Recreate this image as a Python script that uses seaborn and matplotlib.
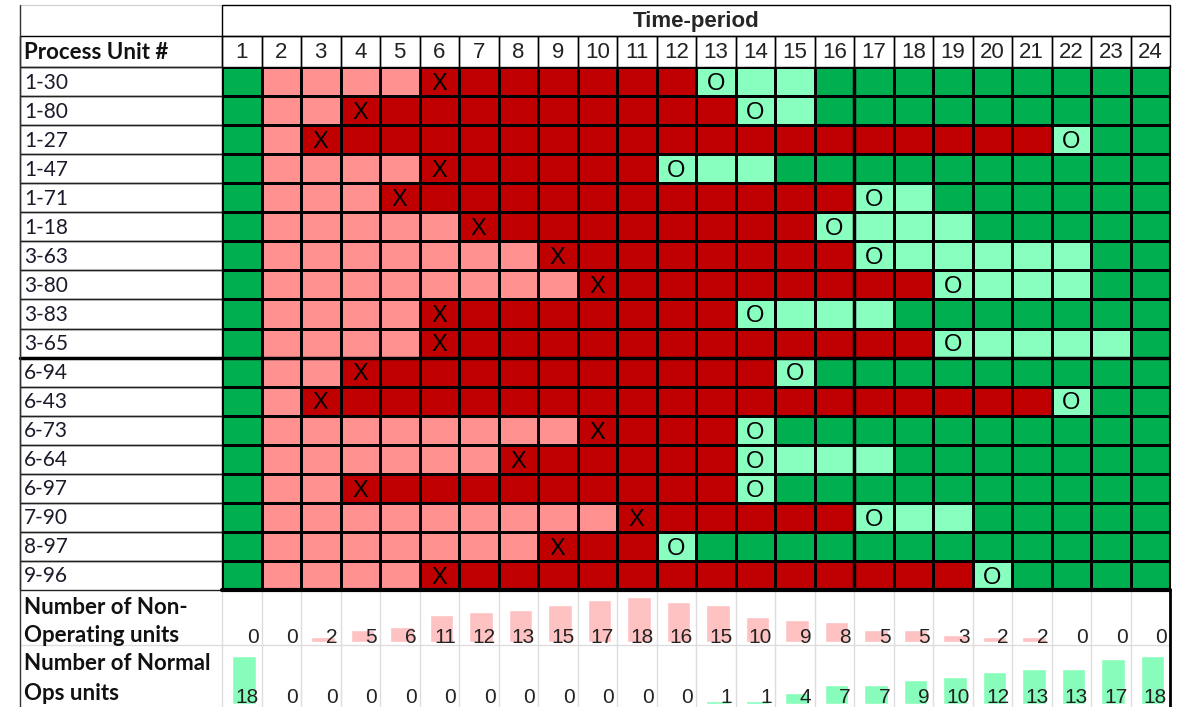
import matplotlib
matplotlib.use("Agg")
import matplotlib.pyplot as plt
from matplotlib.colors import ListedColormap
from matplotlib.patches import Rectangle
import seaborn as sns
import numpy as np


# Data

units = ["1-30", "1-80", "1-27", "1-47", "1-71", "1-18", "3-63", "3-80", "3-83",
         "3-65", "6-94", "6-43", "6-73", "6-64", "6-97", "7-90", "8-97", "9-96"]
# period where the unit goes down (X), comes back (O), last recovering period
x_period = [6, 4, 3, 6, 5, 7, 9, 10, 6, 6, 4, 3, 10, 8, 4, 11, 9, 6]
o_period = [13, 14, 22, 12, 17, 16, 17, 19, 14, 19, 15, 22, 14, 14, 14, 17, 12, 20]
recover_last = [15, 15, 22, 14, 18, 19, 22, 22, 17, 23, 15, 22, 14, 17, 14, 19, 12, 20]
periods = list(range(1, 25))
non_operating = [0, 0, 2, 5, 6, 11, 12, 13, 15, 17, 18, 16, 15, 10, 9, 8, 5, 5, 3, 2, 2, 0, 0, 0]
normal_ops = [18, 0, 0, 0, 0, 0, 0, 0, 0, 0, 0, 0, 1, 1, 4, 7, 7, 9, 10, 12, 13, 13, 17, 18]

DK_GREEN = "#00B050"
PINK = "#FF9191"
RED = "#C00000"
LT_GREEN = "#88FFBF"
PINK_BAR = "#FFC2C2"
GREEN_BAR = "#88FDBB"

# 0 normal, 1 before outage, 2 non-operating, 3 recovering
state = np.zeros((len(units), len(periods)), dtype=int)
marks = np.full(state.shape, "", dtype=object)
for i in range(len(units)):
    for j, p in enumerate(periods):
        if p == 1:
            s = 0
        elif p < x_period[i]:
            s = 1
        elif p < o_period[i]:
            s = 2
        elif p <= recover_last[i]:
            s = 3
        else:
            s = 0
        state[i, j] = s
    marks[i, x_period[i] - 1] = "X"
    marks[i, o_period[i] - 1] = "O"


# Layout (pixels)

W, H = 1178, 707
LX0, GX0, GX1 = 20, 222, 1170
TOP0, HDR0, ROW0, ROW1 = 5, 36, 67, 590
MID, BOT = 645, 707
CW = (GX1 - GX0) / len(periods)
RH = (ROW1 - ROW0) / len(units)

sns.set_style("white")
narrow = ["Liberation Sans Narrow", "Liberation Sans", "DejaVu Sans"]
calib = ["Lato", "DejaVu Sans"]
plt.rcParams["font.family"] = calib


def px(x0, y0, x1, y1):
    return [x0 / W, 1 - y1 / H, (x1 - x0) / W, (y1 - y0) / H]


fig = plt.figure(figsize=(W / 100, H / 100), dpi=100)
fig.patch.set_facecolor("white")

bg = fig.add_axes([0, 0, 1, 1])
bg.set_xlim(0, W)
bg.set_ylim(H, 0)
bg.axis("off")

# header rows
bg.add_patch(Rectangle((LX0, TOP0), GX0 - LX0, HDR0 - TOP0, fill=False, ec="#cccccc", lw=0.8))
bg.add_patch(Rectangle((GX0, TOP0), GX1 - GX0, HDR0 - TOP0, fill=False, ec="black", lw=1))
bg.text((GX0 + GX1) / 2, (TOP0 + HDR0) / 2 + 1, "Time-period", ha="center", va="center",
        fontsize=16, fontweight="bold", family=["Liberation Sans", "DejaVu Sans"])
bg.add_patch(Rectangle((LX0, HDR0), GX0 - LX0, ROW0 - HDR0, fill=False, ec="black", lw=1))
bg.text(LX0 + 4, (HDR0 + ROW0) / 2 + 1, "Process Unit #", ha="left", va="center",
        fontsize=16, fontweight="bold", color="#111111")
for k, p in enumerate(periods):
    cx = GX0 + CW * k
    bg.add_patch(Rectangle((cx, HDR0), CW, ROW0 - HDR0, fill=False, ec="black", lw=1))
    bg.text(cx + CW / 2, (HDR0 + ROW0) / 2 + 1, str(p), ha="center", va="center",
            fontsize=16, family=narrow, color="#222222")

# unit label column
for i, u in enumerate(units):
    y = ROW0 + RH * i
    bg.add_patch(Rectangle((LX0, y), GX0 - LX0, RH, fill=False, ec="#222222", lw=1))
    bg.text(LX0 + 4, y + RH / 2 + 1, u, ha="left", va="center", fontsize=15, color="#1a1a2a")
bg.plot([LX0, GX0], [ROW0 + RH * 10] * 2, color="black", lw=2.5)

# bottom count section
for k in range(1, len(periods)):
    cx = GX0 + CW * k
    bg.plot([cx, cx], [ROW1, BOT], color="#dddddd", lw=1)
bg.plot([LX0, GX1], [MID, MID], color="#dddddd", lw=1)
bg.plot([GX0, GX0], [ROW1, BOT], color="#dddddd", lw=1)
bg.plot([GX1, GX1], [ROW1, BOT], color="black", lw=2)
bg.plot([LX0, LX0], [TOP0, BOT], color="#333333", lw=1)
for txt, yy in [("Number of Non-", 607), ("Operating units", 636),
                ("Number of Normal", 664), ("Ops units", 694)]:
    bg.text(LX0 + 4, yy, txt, ha="left", va="center", fontsize=16,
            fontweight="bold", color="#111111")

# status grid
hm = fig.add_axes(px(GX0, ROW0, GX1, ROW1))
cmap = ListedColormap([DK_GREEN, PINK, RED, LT_GREEN])
sns.heatmap(state, ax=hm, cmap=cmap, vmin=-0.5, vmax=3.5, cbar=False,
            linewidths=0.9, linecolor="black", annot=marks, fmt="",
            annot_kws={"color": "black", "fontsize": 17, "family": narrow},
            xticklabels=False, yticklabels=False)
# marks sit a little low in their cells
for t in hm.texts:
    tx, ty = t.get_position()
    t.set_position((tx, ty + 0.08))
hm.axvline(16, color="black", lw=2.5)
hm.axhline(10, color="black", lw=2.5)
hm.axhline(len(units), color="black", lw=3, clip_on=False)
hm.axvline(len(periods), color="black", lw=1.5, clip_on=False)

# data bars in the count rows
ax_non = fig.add_axes(px(GX0, 597, GX1, 642))
sns.barplot(x=periods, y=non_operating, color=PINK_BAR, width=0.6, saturation=1, ax=ax_non)
ax_ops = fig.add_axes(px(GX0, 656, GX1, 704))
sns.barplot(x=periods, y=normal_ops, color=GREEN_BAR, width=0.6, saturation=1, ax=ax_ops)
for a in (ax_non, ax_ops):
    a.set_xlim(-0.56, len(periods) - 0.56)
    a.set_ylim(0, 18)
    a.axis("off")
    a.patch.set_alpha(0)

# count numbers on top of the bars
top = fig.add_axes([0, 0, 1, 1])
top.set_xlim(0, W)
top.set_ylim(H, 0)
top.axis("off")
top.patch.set_alpha(0)
for k in range(len(periods)):
    xr = GX0 + CW * (k + 1) - 3
    top.text(xr, 643, str(non_operating[k]), ha="right", va="baseline",
             fontsize=15, family=narrow, color="#222222")
    top.text(xr, 703, str(normal_ops[k]), ha="right", va="baseline",
             fontsize=15, family=narrow, color="#222222")

fig.savefig("out.png", dpi=100)
